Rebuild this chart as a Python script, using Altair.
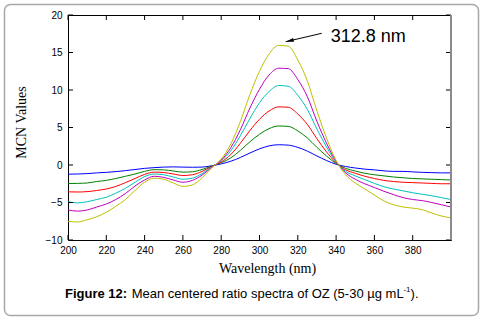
import altair as alt
import pandas as pd

# ---------------- data ----------------
wavelength = list(range(200, 401, 5))

blue = [-1.22, -1.20, -1.15, -1.05, -0.98, -0.88, -0.75, -0.60, -0.45, -0.35,
        -0.28, -0.25, -0.28, -0.30, -0.28, -0.10, 0.15, 0.50, 1.00, 1.60,
        2.15, 2.55, 2.70, 2.65, 2.35, 1.85, 1.20, 0.60, 0.10, -0.20,
        -0.40, -0.55, -0.65, -0.78, -0.85, -0.85, -0.92, -0.98, -1.02, -1.05, -1.05]
green = [-2.47, -2.45, -2.40, -2.20, -2.05, -1.80, -1.50, -1.20, -0.85, -0.62,
         -0.65, -0.80, -0.95, -0.90, -0.60, -0.15, 0.30, 0.95, 1.95, 3.10,
         4.10, 4.85, 5.20, 5.15, 4.55, 3.60, 2.35, 1.20, 0.20, -0.45,
         -0.80, -1.10, -1.30, -1.45, -1.60, -1.70, -1.80, -1.85, -1.90, -1.95, -2.00]
red = [-3.58, -3.60, -3.55, -3.40, -3.20, -2.85, -2.35, -1.80, -1.25, -0.95,
       -1.00, -1.20, -1.40, -1.30, -0.85, -0.20, 0.40, 1.40, 2.90, 4.60,
       6.10, 7.20, 7.75, 7.70, 6.80, 5.40, 3.50, 1.75, 0.30, -0.65,
       -1.10, -1.50, -1.80, -2.05, -2.20, -2.30, -2.35, -2.40, -2.45, -2.50, -2.50]
cyan = [-4.90, -5.05, -4.90, -4.60, -4.30, -3.75, -3.10, -2.30, -1.55, -1.20,
        -1.30, -1.60, -1.90, -1.75, -1.15, -0.25, 0.55, 1.90, 3.90, 6.20,
        8.30, 9.80, 10.60, 10.50, 9.30, 7.40, 4.80, 2.40, 0.40, -0.85,
        -1.45, -1.95, -2.45, -2.90, -3.20, -3.45, -3.70, -3.90, -4.10, -4.35, -4.60]
magenta = [-6.00, -6.15, -6.00, -5.60, -5.20, -4.60, -3.80, -2.80, -2.00, -1.50,
           -1.65, -2.00, -2.30, -2.05, -1.35, -0.30, 0.65, 2.30, 4.70, 7.60,
           10.10, 12.00, 12.90, 12.85, 11.40, 9.10, 5.80, 2.90, 0.50, -1.05,
           -1.90, -2.50, -3.00, -3.50, -3.95, -4.35, -4.60, -4.75, -5.00, -5.30, -5.60]
yellow = [-7.50, -7.60, -7.30, -6.90, -6.30, -5.50, -4.60, -3.40, -2.30, -1.75,
          -1.90, -2.40, -2.85, -2.65, -1.70, -0.40, 0.80, 2.80, 5.80, 9.40,
          12.50, 14.80, 15.95, 15.85, 14.00, 11.20, 7.20, 3.60, 0.60, -1.30,
          -2.40, -3.20, -4.00, -4.80, -5.30, -5.60, -5.75, -5.95, -6.40, -6.80, -7.05]

series_names = ["5", "10", "15", "20", "25", "30"]
series_values = [blue, green, red, cyan, magenta, yellow]
series_colors = ["#0000ff", "#008000", "#ff0000", "#00bfbf", "#bf00bf", "#bfbf00"]

x_ticks = [200, 220, 240, 260, 280, 300, 320, 340, 360, 380]
y_ticks = [-10, -5, 0, 5, 10, 15, 20]

annot_text = ["312.8 nm"]
annot_x = [337.2]
annot_y = [16.44]
arrow_x = [332.5, 313.7]
arrow_y = [17.56, 16.44]

x_title = "Wavelength (nm)"
y_title = "MCN Values"
caption_bold = "Figure 12:"
caption_main = "Mean centered ratio spectra of OZ (5-30 \u00b5g mL"
caption_sup = "-1"
caption_end = ")."

# ---------------- build ----------------
rows = []
for name, vals in zip(series_names, series_values):
    for w, v in zip(wavelength, vals):
        rows.append({"wavelength": w, "value": v, "series": name})
df = pd.DataFrame(rows)

W, H = 383, 225
PL, PT = 68, 15
SANS = "Liberation Sans"
SERIF = "Liberation Serif"

xscale = alt.Scale(domain=[200, 400], nice=False, zero=False)
yscale = alt.Scale(domain=[-10, 20], nice=False, zero=False)

xaxis = alt.Axis(values=x_ticks, ticks=False, domain=False, grid=False,
                 labelFont=SANS, labelFontSize=10, labelColor="black",
                 labelPadding=5, labelFlush=False, labelOverlap=False, title=None)
yaxis = alt.Axis(values=y_ticks, ticks=False, domain=False, grid=False,
                 labelFont=SANS, labelFontSize=10, labelColor="black",
                 labelPadding=6, labelFlush=False, labelOverlap=False, title=None)


def X(f):
    return alt.X(f, scale=xscale, axis=xaxis)


def Y(f):
    return alt.Y(f, scale=yscale, axis=yaxis)


lines = alt.Chart(df).mark_line(strokeWidth=1, interpolate="monotone").encode(
    x=X("wavelength:Q"),
    y=Y("value:Q"),
    color=alt.Color("series:N", scale=alt.Scale(domain=series_names, range=series_colors), legend=None),
)

ytdf = pd.DataFrame({"v": y_ticks})
xtdf = pd.DataFrame({"v": x_ticks})
tick_l = alt.Chart(ytdf).mark_rule(color="black", strokeWidth=1).encode(
    y=Y("v:Q"), x=alt.value(0), x2=alt.value(5))
tick_r = alt.Chart(ytdf).mark_rule(color="black", strokeWidth=1).encode(
    y=Y("v:Q"), x=alt.value(W - 5), x2=alt.value(W))
tick_b = alt.Chart(xtdf).mark_rule(color="black", strokeWidth=1).encode(
    x=X("v:Q"), y=alt.value(H - 5), y2=alt.value(H))
tick_t = alt.Chart(xtdf).mark_rule(color="black", strokeWidth=1).encode(
    x=X("v:Q"), y=alt.value(0), y2=alt.value(5))

right_edge = alt.Chart(pd.DataFrame({"a": [0]})).mark_rule(color="#8a8a8a", strokeWidth=2).encode(
    x=alt.value(W), y=alt.value(0), y2=alt.value(H))

arrow_df = pd.DataFrame({"x": arrow_x, "y": arrow_y, "o": [0, 1]})
arrow_line = alt.Chart(arrow_df).mark_line(color="black", strokeWidth=1).encode(
    x=X("x:Q"), y=Y("y:Q"), order="o:Q")
head_df = pd.DataFrame({"x": arrow_x[1:], "y": arrow_y[1:]})
arrow_head = alt.Chart(head_df).mark_point(
    shape="M0,0L0.4,1.6L-0.4,1.6Z", filled=True, color="black", size=100, angle=257, opacity=1
).encode(x=X("x:Q"), y=Y("y:Q"))

annot = alt.Chart(pd.DataFrame({"x": annot_x, "y": annot_y, "t": annot_text})).mark_text(
    font=SANS, fontSize=18, align="left", baseline="alphabetic", color="black"
).encode(x=X("x:Q"), y=Y("y:Q"), text="t:N")


def label(txt, x, y, **kw):
    return alt.Chart(pd.DataFrame({"t": [txt]})).mark_text(color="black", **kw).encode(
        text="t:N", x=alt.value(x - PL), y=alt.value(y - PT))


xt = label(x_title, 267.5, 273, font=SERIF, fontSize=14, align="center", baseline="alphabetic")
yt = label(y_title, 22, 122.5, font=SERIF, fontSize=14, align="center", baseline="middle", angle=270)
c1 = label(caption_bold, 65, 298, font=SANS, fontSize=13, fontWeight="bold", align="left", baseline="alphabetic")
c2 = label(caption_main, 131.7, 298, font=SANS, fontSize=13, align="left", baseline="alphabetic")
c3 = label(caption_sup, 403.4, 292, font=SANS, fontSize=8, align="left", baseline="alphabetic")
c4 = label(caption_end, 410.6, 298, font=SANS, fontSize=13, align="left", baseline="alphabetic")

frame = alt.Chart(pd.DataFrame({"a": [0]})).mark_rect(
    filled=False, stroke="#a8a8a8", strokeWidth=1.5, cornerRadius=6
).encode(x=alt.value(4.5 - PL), x2=alt.value(478.5 - PL), y=alt.value(4.5 - PT), y2=alt.value(315.5 - PT))

chart = alt.layer(
    lines, tick_l, tick_r, tick_b, tick_t, right_edge, arrow_line, arrow_head, annot,
    xt, yt, c1, c2, c3, c4, frame
).properties(
    width=W, height=H,
    padding={"left": PL, "top": PT, "right": 483 - PL - W, "bottom": 321 - PT - H},
    autosize=alt.AutoSizeParams(type="none"),
    background="white",
).configure_view(stroke="black", strokeWidth=1)

chart.save("out.html", embed_options={"renderer": "svg", "actions": False})
